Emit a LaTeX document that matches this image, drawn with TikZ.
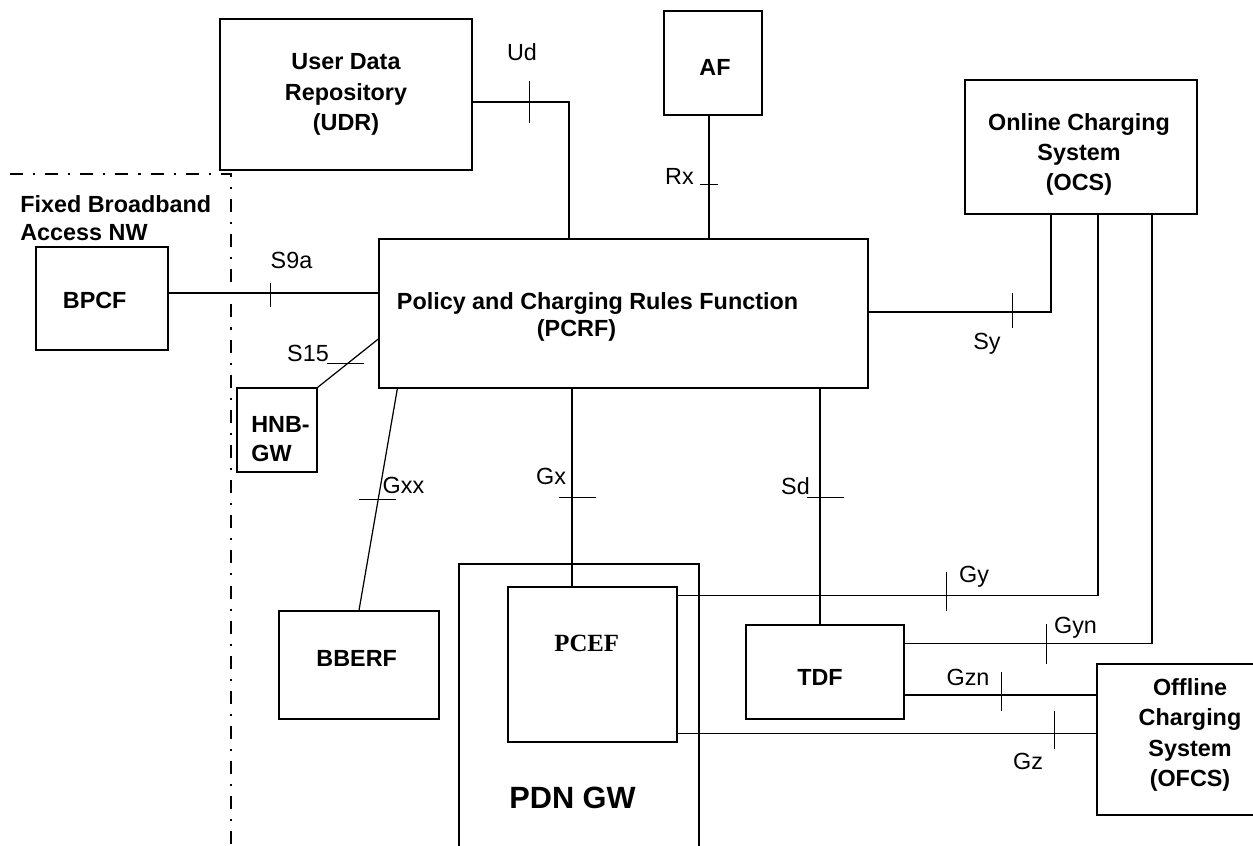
\documentclass[tikz,border=0pt]{standalone}
\usepackage{fontspec}
\setmainfont{Liberation Sans}
\newfontfamily\serifbold{Liberation Serif}
\usetikzlibrary{calc}

\newcommand\diafont{\fontsize{13.3}{17.3}\selectfont}

\tikzset{
  box/.style={draw,line width=.8pt,inner sep=0pt,align=center,font=\diafont\bfseries},
  iface/.style={line width=.7pt},
  tick/.style={line width=.5pt},
  lbl/.style={anchor=base,inner sep=0pt,font=\diafont},
  boldlbl/.style={anchor=base,inner sep=0pt,font=\diafont\bfseries},
  boxtext/.style={inner sep=0pt,align=center,font=\diafont\bfseries},
  fbborder/.style={line width=1.6pt,dash pattern=on 7.4pt off 5.7pt on 1.2pt off 5.7pt}
}

\begin{document}
\begin{tikzpicture}[x=.02cm,y=-.02cm]
  \useasboundingbox (0,0) rectangle (1253,845);

  % boxes
  \node[box,minimum width=5.04cm,minimum height=3.02cm] (udr) at (346,94.5) {User Data\\Repository\\(UDR)};
  \node[box,minimum width=1.96cm,minimum height=2.08cm] (af) at (713,63) {};
  \node[box,minimum width=4.64cm,minimum height=2.68cm] (ocs) at (1081,147) {};
  \node[box,minimum width=9.78cm,minimum height=2.98cm] (pcrf) at (623.5,313.5) {};
  \node[box,minimum width=2.64cm,minimum height=2.06cm] (bpcf) at (102,298.5) {};
  \node[box,minimum width=1.6cm,minimum height=1.68cm] (hnb) at (277,430) {};
  \node[box,minimum width=3.2cm,minimum height=2.16cm] (bberf) at (359,665) {};
  \node[box,minimum width=4.8cm,minimum height=5.84cm] (pdngw) at (579,710) {};
  \node[box,minimum width=3.38cm,minimum height=3.1cm] (pcef) at (592.5,664.5) {};
  \node[box,minimum width=3.16cm,minimum height=1.88cm] (tdf) at (825,672) {};
  \node[box,minimum width=3.22cm,minimum height=3.02cm] (ofcs) at (1177.5,739.5) {};

  % box texts
  \node[boldlbl] (aft) at (715,75) {AF};
  \node[boxtext] (ocst) at (1079,154.5) {Online Charging\\System\\(OCS)};
  \node[boldlbl] (pcrft) at (597.5,309) {Policy and Charging Rules Function};
  \node[boldlbl] (pcrfs) at (576.5,336) {(PCRF)};
  \node[boldlbl] (bpcft) at (94.7,308) {BPCF};
  \node[boxtext,anchor=west,align=left,font=\bfseries\fontsize{13.3}{16.4}\selectfont] (hnbt) at (251,439) {HNB-\\GW};
  \node[boldlbl] (bberft) at (356.7,666) {BBERF};
  \node[boldlbl,font=\serifbold\bfseries\fontsize{14.1}{17}\selectfont] (pceft) at (586.7,651) {PCEF};
  \node[boldlbl] (tdft) at (820,685) {TDF};
  \node[boldlbl,font=\bfseries\fontsize{17.5}{21}\selectfont] (pdngwt) at (572.5,808) {PDN GW};
  \node[boxtext,font=\bfseries\fontsize{13.3}{17.4}\selectfont] (ofcst) at (1190,735) {Offline\\Charging\\System\\(OFCS)};
  \node[boxtext,anchor=west,align=left,font=\bfseries\fontsize{13.3}{15.6}\selectfont] (fbb) at (20,218.3) {Fixed Broadband\\Access NW};

  % access network border
  \draw[fbborder] (10,174) -- (231,174) -- (231,845);

  % reference points
  \coordinate (ud) at ($(udr.east)+(0,7.5)$);
  \draw[iface] (ud) -| ($(pcrf.north)+(-54.5,0)$);
  \coordinate (rx) at ($(af.south)+(-4,0)$);
  \draw[iface] (rx) -- (rx |- pcrf.north);
  \coordinate (s9a) at ($(bpcf.east)+(0,-5.5)$);
  \draw[iface] (s9a) -- (s9a -| pcrf.west);
  \coordinate (sy) at ($(pcrf.east)+(0,-1.5)$);
  \draw[iface] (sy) -| ($(ocs.south)+(-30,0)$);
  \draw[iface] (hnb.north east) -- ($(pcrf.west)+(0,25.5)$);
  \draw[iface] ($(pcrf.south west)+(19,0)$) -- (bberf.north);
  \coordinate (gx) at ($(pcef.north)+(-20.5,0)$);
  \draw[iface] (gx) -- (gx |- pcrf.south);
  \coordinate (sd) at ($(tdf.north)+(-5,0)$);
  \draw[iface] (sd) -- (sd |- pcrf.south);
  \draw[iface] ($(pcef.north east)+(0,9)$) -| ($(ocs.south)+(17,0)$);
  \draw[iface] ($(tdf.north east)+(0,19)$) -| ($(ocs.south)+(71,0)$);
  \coordinate (gzn) at ($(tdf.east)+(0,23)$);
  \draw[iface] (gzn) -- (gzn -| ofcs.west);
  \coordinate (gz) at ($(pcef.south east)+(0,-9)$);
  \draw[iface] (gz) -- (gz -| ofcs.west);

  % ticks
  \draw[tick] (529,81) -- (529,123);
  \draw[tick] (700,184) -- (718,184);
  \draw[tick] (270,283) -- (270,307);
  \draw[tick] (1012,293) -- (1012,328);
  \draw[tick] (327,363) -- (364,363);
  \draw[tick] (359,499) -- (396,499);
  \draw[tick] (559,497) -- (596,497);
  \draw[tick] (807,497) -- (844,497);
  \draw[tick] (946,572) -- (946,611);
  \draw[tick] (1046,624) -- (1046,664);
  \draw[tick] (1001,672) -- (1001,711);
  \draw[tick] (1054,711) -- (1054,749);

  % interface names
  \node[lbl] (udl) at (522,60) {Ud};
  \node[lbl] (rxl) at (679.5,184) {Rx};
  \node[lbl] (s9al) at (291.5,268) {S9a};
  \node[lbl] (syl) at (987,349) {Sy};
  \node[lbl] (s15l) at (308,361) {S15};
  \node[lbl] (gxxl) at (403.5,493) {Gxx};
  \node[lbl] (gxl) at (551,484) {Gx};
  \node[lbl] (sdl) at (795.5,494) {Sd};
  \node[lbl] (gyl) at (974,582) {Gy};
  \node[lbl] (gynl) at (1075.5,633) {Gyn};
  \node[lbl] (gznl) at (968,685) {Gzn};
  \node[lbl] (gzl) at (1028,769) {Gz};
\end{tikzpicture}
\end{document}
